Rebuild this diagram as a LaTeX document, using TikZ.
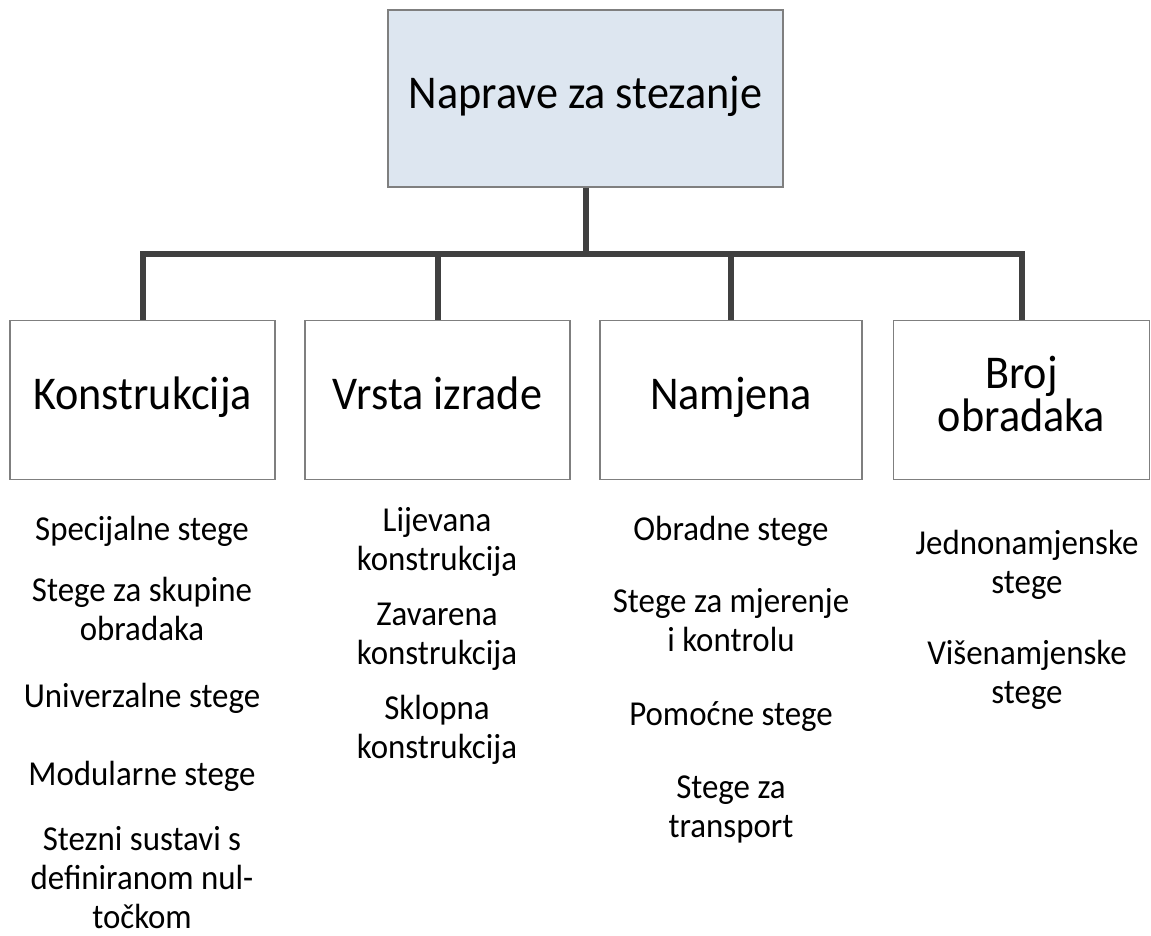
\documentclass[tikz,border=0pt]{standalone}
\usepackage{fontspec}
\setmainfont{Carlito}
\newfontfamily\uzki[FakeStretch=0.94]{Carlito}
\usepackage{tikz}
\definecolor{linegray}{RGB}{64,64,64}
\definecolor{boxgray}{RGB}{127,127,127}
\definecolor{topfill}{RGB}{221,230,240}
\tikzset{
	kutija/.style={draw=boxgray, line width=1.2pt, fill=white, inner sep=0pt,
		align=center, font=\uzki\fontsize{47}{43}\selectfont,
		execute at begin node=\strut, execute at end node=\strut},
	stavka/.style={align=center, inner sep=0pt, font=\uzki\fontsize{35}{39}\selectfont,
		execute at begin node=\strut, execute at end node=\strut},
	veza/.style={draw=linegray, line width=6pt}
}

\begin{document}
\begin{tikzpicture}[x=1pt, y=-1pt]
		\useasboundingbox (0,0) rectangle (1151,936);
		% glavni naslov
		\node [kutija, fill=topfill, minimum width=395pt, minimum height=177pt] (naprave) at (585.5,98.5) {Naprave za stezanje};
		\coordinate (sab) at (585,254);
		% kategorije
		\node [kutija, minimum width=265pt, minimum height=159pt] (konstr) at (142.5,400) {Konstrukcija};
		\node [kutija, minimum width=265pt, minimum height=159pt] (vrsta) at (437.5,400) {Vrsta izrade};
		\node [kutija, minimum width=262pt, minimum height=159pt] (namj) at (731,400) {Namjena};
		\node [kutija, minimum width=256pt, minimum height=159pt] (broj) at (1021.5,400) {Broj\\obradaka};
		% veze
		\draw [veza] (naprave.south) -- (naprave.south |- sab);
		\draw [veza] (konstr.north) |- (broj.north |- sab) -- (broj.north);
		\draw [veza] (vrsta.north) -- (vrsta.north |- sab);
		\draw [veza] (namj.north) -- (namj.north |- sab);

		% Konstrukcija
		\node [stavka] (k1) at (142,533) {Specijalne stege};
		\node [stavka] (k2) at (142,615) {Stege za skupine\\obradaka};
		\node [stavka] (k3) at (142,700) {Univerzalne stege};
		\node [stavka] (k4) at (142,778) {Modularne stege};
		\node [stavka] (k5) at (142,883) {Stezni sustavi s\\definiranom nul-\\točkom};
		% Vrsta izrade
		\node [stavka] (v1) at (437,545) {Lijevana\\konstrukcija};
		\node [stavka] (v2) at (437,640) {Zavarena\\konstrukcija};
		\node [stavka] (v3) at (437,733) {Sklopna\\konstrukcija};
		% Namjena
		\node [stavka] (n1) at (731,533) {Obradne stege};
		\node [stavka] (n2) at (731,626) {Stege za mjerenje\\i kontrolu};
		\node [stavka] (n3) at (731,718) {Pomoćne stege};
		\node [stavka] (n4) at (731,812) {Stege za\\transport};
		% Broj obradaka
		\node [stavka] (b1) at (1027,568) {Jednonamjenske\\stege};
		\node [stavka] (b2) at (1027,678) {Višenamjenske\\stege};
	\end{tikzpicture}
\end{document}
